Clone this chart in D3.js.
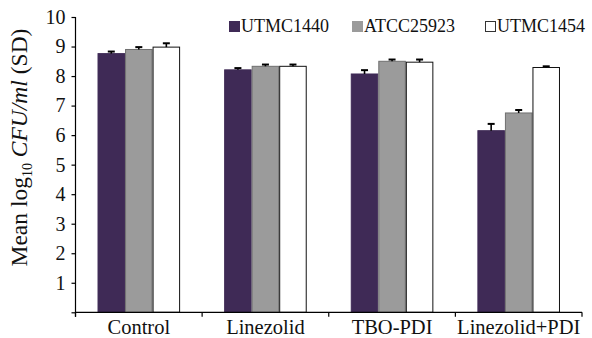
<!DOCTYPE html>
<html>
<head>
<meta charset="utf-8">
<script src="https://cdn.jsdelivr.net/npm/d3@7/dist/d3.min.js"></script>
<style>
  html, body { margin: 0; padding: 0; background: #fff; }
  svg, svg text { font-family: "Liberation Serif", "Times New Roman", serif !important; }
</style>
</head>
<body>
<svg id="chart" width="592" height="338"></svg>
<script>
const categories = ["Control", "Linezolid", "TBO-PDI", "Linezolid+PDI"];
const seriesNames = ["UTMC1440", "ATCC25923", "UTMC1454"];
const utmc1440 = [8.76, 8.21, 8.07, 6.15];
const atcc25923 = [8.90, 8.33, 8.50, 6.75];
const utmc1454 = [8.98, 8.33, 8.47, 8.29];
const sd1440 = [0.07, 0.06, 0.13, 0.23];
const sd25923 = [0.08, 0.06, 0.06, 0.10];
const sd1454 = [0.13, 0.06, 0.09, 0.04];
const yTicks = [1, 2, 3, 4, 5, 6, 7, 8, 9, 10];

const values = [utmc1440, atcc25923, utmc1454];
const sds = [sd1440, sd25923, sd1454];
const fills = ["#3f2a56", "#9b9b9b", "#ffffff"];
const strokes = ["#3f2a56", "#6f6f6f", "#111111"];

const svg = d3.select("#chart");
const mLeft = 75.5, mRight = 582, mTop = 17, mBottom = 312.3;

const y = d3.scaleLinear().domain([0, 10]).range([mBottom, mTop]);
const x0 = d3.scaleBand().domain(categories).range([mLeft, mRight]).padding(0);
const x1 = d3.scaleBand().domain(seriesNames).range([0, x0.bandwidth()]).paddingInner(0).paddingOuter(0.8);

const data = [];
categories.forEach((c, ci) => {
  seriesNames.forEach((s, si) => {
    data.push({c, s, si, v: values[si][ci], sd: sds[si][ci]});
  });
});

const g = svg.append("g");
g.selectAll("rect.bar").data(data).join("rect")
  .attr("class", "bar")
  .attr("x", d => x0(d.c) + x1(d.s) + 0.5)
  .attr("y", d => y(d.v))
  .attr("width", x1.bandwidth() - 1)
  .attr("height", d => mBottom - y(d.v))
  .attr("fill", d => fills[d.si])
  .attr("stroke", d => strokes[d.si])
  .attr("stroke-width", 1);

const eb = g.selectAll("g.err").data(data).join("g").attr("class", "err");
eb.append("line")
  .attr("x1", d => x0(d.c) + x1(d.s) + x1.bandwidth() / 2)
  .attr("x2", d => x0(d.c) + x1(d.s) + x1.bandwidth() / 2)
  .attr("y1", d => y(d.v))
  .attr("y2", d => y(d.v + d.sd))
  .attr("stroke", "#000").attr("stroke-width", 1.6);
eb.append("line")
  .attr("x1", d => x0(d.c) + x1(d.s) + x1.bandwidth() / 2 - 3.5)
  .attr("x2", d => x0(d.c) + x1(d.s) + x1.bandwidth() / 2 + 3.5)
  .attr("y1", d => y(d.v + d.sd))
  .attr("y2", d => y(d.v + d.sd))
  .attr("stroke", "#000").attr("stroke-width", 2);

const yAxis = d3.axisLeft(y).tickValues([0].concat(yTicks)).tickSize(4).tickPadding(6)
  .tickFormat(d => d === 0 ? "" : d);
const ya = svg.append("g").attr("transform", `translate(${mLeft},0)`).call(yAxis);
ya.attr("font-family", null);
ya.select(".domain").attr("d", `M0,${mTop}V${mBottom + 4.5}`).attr("stroke", "#000").attr("stroke-width", 1.2);
ya.selectAll(".tick line").attr("stroke", "#000").attr("stroke-width", 1.2);
ya.selectAll(".tick text").attr("font-size", 20).attr("fill", "#111");

const xa = svg.append("g").attr("transform", `translate(0,${mBottom})`);
xa.append("line").attr("x1", mLeft).attr("x2", mRight).attr("stroke", "#000").attr("stroke-width", 1.2);
const bounds = categories.map(c => x0(c)).concat([mRight]);
xa.selectAll("line.tk").data(bounds).join("line").attr("class", "tk")
  .attr("x1", d => d).attr("x2", d => d).attr("y1", 0).attr("y2", 4.5)
  .attr("stroke", "#000").attr("stroke-width", 1.2);
xa.selectAll("text.lbl").data(categories).join("text").attr("class", "lbl")
  .attr("x", d => x0(d) + x0.bandwidth() / 2)
  .attr("y", 21.8)
  .attr("text-anchor", "middle")
  .attr("font-size", 20.5)
  .attr("fill", "#111")
  .text(d => d);

const yt = svg.append("text")
  .attr("transform", `translate(27,147.5) rotate(-90)`)
  .attr("text-anchor", "middle")
  .attr("font-size", 23.5)
  .attr("fill", "#111");
yt.append("tspan").text("Mean log");
yt.append("tspan").attr("font-size", 14).attr("dy", 5).text("10");
yt.append("tspan").attr("dy", -5).text(" ");
yt.append("tspan").attr("font-style", "italic").text("CFU/ml");
yt.append("tspan").text(" (SD)");

const legX = [229, 352, 485];
const leg = svg.selectAll("g.leg").data(seriesNames).join("g").attr("class", "leg")
  .attr("transform", (d, i) => `translate(${legX[i]},0)`);
leg.append("rect").attr("x", 0.5).attr("y", 21.5).attr("width", 10).attr("height", 10)
  .attr("fill", (d, i) => fills[i])
  .attr("stroke", (d, i) => i === 2 ? "#333" : fills[i]).attr("stroke-width", 1);
leg.append("text").attr("x", 12).attr("y", 32.3).attr("font-size", 18).attr("fill", "#111").text(d => d);
</script>
</body>
</html>
